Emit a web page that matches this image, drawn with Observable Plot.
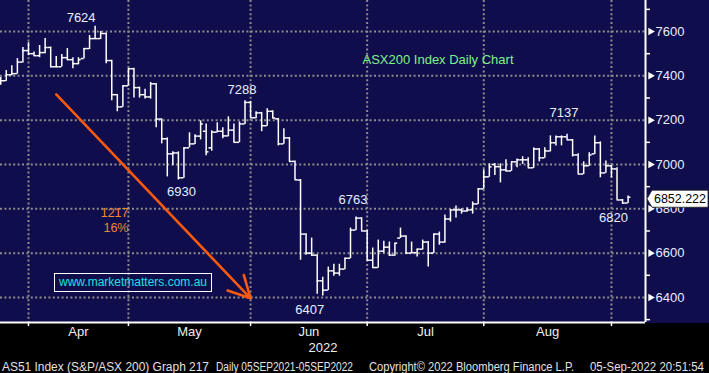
<!DOCTYPE html>
<html><head><meta charset="utf-8">
<script src="https://cdn.jsdelivr.net/npm/d3@7"></script>
<script src="https://cdn.jsdelivr.net/npm/@observablehq/plot@0.6"></script>
<style>
html,body{margin:0;padding:0;background:#000;}
#chart{position:relative;width:709px;height:373px;overflow:hidden;}
#chart svg{display:block;}
.mm{position:absolute;left:54px;top:273px;width:156px;height:17px;border:1px solid #fff;color:#1ee0e6;font:12px "Liberation Sans",Arial,sans-serif;line-height:17px;text-align:center;}
</style></head><body><div id="chart"></div>
<script>
// ---- data: ASX200 daily OHLC, 24 Mar 2022 - 5 Sep 2022 (trading days) ----
const dates = [
"2022-03-24","2022-03-25","2022-03-28","2022-03-29","2022-03-30","2022-03-31",
"2022-04-01","2022-04-04","2022-04-05","2022-04-06","2022-04-07","2022-04-08","2022-04-11","2022-04-12","2022-04-13","2022-04-14","2022-04-19","2022-04-20","2022-04-21","2022-04-22","2022-04-26","2022-04-27","2022-04-28","2022-04-29",
"2022-05-02","2022-05-03","2022-05-04","2022-05-05","2022-05-06","2022-05-09","2022-05-10","2022-05-11","2022-05-12","2022-05-13","2022-05-16","2022-05-17","2022-05-18","2022-05-19","2022-05-20","2022-05-23","2022-05-24","2022-05-25","2022-05-26","2022-05-27","2022-05-30","2022-05-31",
"2022-06-01","2022-06-02","2022-06-03","2022-06-06","2022-06-07","2022-06-08","2022-06-09","2022-06-10","2022-06-14","2022-06-15","2022-06-16","2022-06-17","2022-06-20","2022-06-21","2022-06-22","2022-06-23","2022-06-24","2022-06-27","2022-06-28","2022-06-29","2022-06-30",
"2022-07-01","2022-07-04","2022-07-05","2022-07-06","2022-07-07","2022-07-08","2022-07-11","2022-07-12","2022-07-13","2022-07-14","2022-07-15","2022-07-18","2022-07-19","2022-07-20","2022-07-21","2022-07-22","2022-07-25","2022-07-26","2022-07-27","2022-07-28","2022-07-29",
"2022-08-01","2022-08-02","2022-08-03","2022-08-04","2022-08-05","2022-08-08","2022-08-09","2022-08-10","2022-08-11","2022-08-12","2022-08-15","2022-08-16","2022-08-17","2022-08-18","2022-08-19","2022-08-22","2022-08-23","2022-08-24","2022-08-25","2022-08-26","2022-08-29","2022-08-30","2022-08-31",
"2022-09-01","2022-09-02","2022-09-05"];
const opens = [7365,7378,7405,7410,7462,7514,
7500,7491,7505,7528,7441,7441,7482,7473,7455,7478,7523,7568,7568,7591,7469,7315,7260,7355,
7432,7347,7315,7305,7364,7205,7116,7048,7052,6940,7075,7093,7128,7150,7075,7146,7150,7129,7155,7100,7183,7280,
7211,7233,7175,7240,7206,7093,7120,7014,6930,6686,6600,6591,6475,6433,6520,6510,6528,6577,6704,6758,6700,
6568,6535,6609,6627,6591,6668,6677,6600,6602,6618,6650,6600,6686,6650,6754,6795,6795,6790,6795,6822,6890,
6944,7000,6990,6976,6971,7012,7021,7021,6985,7070,7030,7061,7098,7125,7125,7111,7043,6957,6994,7048,7098,6962,6994,
6980,6840,6826];
const highs = [7392,7424,7446,7478,7528,7550,
7508,7537,7568,7530,7487,7496,7523,7482,7482,7523,7582,7624,7600,7593,7470,7316,7355,7432,
7434,7349,7340,7370,7366,7206,7120,7057,7057,7075,7143,7134,7197,7183,7152,7188,7166,7215,7183,7192,7288,7285,
7238,7235,7251,7242,7208,7161,7122,7016,6932,6688,6668,6593,6491,6537,6550,6550,6577,6713,6763,6760,6702,
6623,6659,6654,6650,6645,6713,6679,6650,6618,6659,6652,6686,6695,6772,6795,6813,6800,6805,6831,6890,6976,
7003,7005,7003,7021,7012,7025,7035,7030,7075,7072,7075,7129,7129,7129,7137,7113,7048,7012,7053,7129,7102,7016,6996,
6985,6842,6858];
const lows = [7358,7375,7400,7408,7458,7491,
7488,7482,7500,7437,7437,7440,7469,7432,7450,7476,7519,7564,7564,7455,7288,7238,7258,7353,
7300,7300,7295,7295,7166,7093,6944,6994,6930,6938,7075,7090,7111,7039,7060,7143,7116,7125,7098,7098,7180,7211,
7206,7148,7173,7206,7084,7091,7012,6930,6568,6591,6586,6414,6407,6431,6496,6496,6525,6575,6702,6700,6564,
6532,6532,6600,6586,6586,6666,6596,6598,6582,6614,6537,6598,6636,6645,6740,6758,6776,6785,6776,6820,6888,
6942,6950,6917,6967,6969,6985,7000,6985,6983,7012,7028,7057,7084,7084,7111,7034,6957,6955,6992,7045,6940,6960,6940,
6840,6820,6824];
const closes = [7378,7405,7410,7462,7514,7500,
7491,7505,7528,7441,7441,7482,7473,7455,7473,7523,7568,7568,7591,7469,7315,7260,7355,7432,
7347,7315,7305,7364,7205,7116,7048,7052,6940,7075,7093,7128,7183,7057,7146,7150,7129,7155,7100,7183,7280,7211,
7233,7175,7240,7210,7093,7120,7014,6931,6686,6600,6591,6475,6433,6520,6510,6528,6577,6704,6758,6700,6568,
6535,6609,6627,6591,6645,6677,6600,6602,6618,6650,6600,6686,6650,6754,6795,6795,6790,6795,6822,6890,6944,
6989,6990,6976,6971,7012,7021,7021,6985,7070,7030,7061,7098,7125,7125,7111,7043,6957,6994,7043,7098,6962,6994,6980,
6840,6826,6852.222];

const monthNames = ["Apr","May","Jun","Jul","Aug"];
const yearLabel = "2022";
const majorTicks = [6400,6600,6800,7000,7200,7400,7600];
const minorTicks = [6300,6500,6700,6900,7100,7300,7500,7700];
// swing annotations: bar index and which extreme
const swingHighIdx = [17, 44, 64, 102];
const swingLowIdx = [32, 58, 112];
// drawn trend arrow (bar index, index level)
const arrowFrom = {i: 10, v: 7316};
const arrowTo = {i: 45, v: 6396};
const titleText = "ASX200 Index Daily Chart";
const siteText = "www.marketmatters.com.au";
const footerTexts = ["AS51 Index (S&P/ASX 200) Graph 217","Daily 05SEP2021-05SEP2022","Copyright\u00a9 2022 Bloomberg Finance L.P.","05-Sep-2022 20:51:54"];

// ---- derived ----
const N = dates.length;
const bars = d3.range(N).map(i => ({i, o: opens[i], h: highs[i], l: lows[i], c: closes[i]}));
const mon = s => s.slice(5, 7);
const bounds = d3.range(N - 1).filter(i => mon(dates[i]) !== mon(dates[i + 1]));
const monthLabels = d3.range(bounds.length - 1).map(k => ({x: (bounds[k] + bounds[k + 1]) / 2, label: monthNames[k]}));
const peak = highs[swingHighIdx[0]], trough = lows[swingLowIdx[1]];
const dropText = `${peak - trough}\n${Math.round((peak - trough) / peak * 100)}%`;

const xDom = [-0.04, 116.13], yDom = [6287, 7740];
const grid = {stroke: "#8c8c8c", strokeWidth: 2, strokeDasharray: "2,2.4"};
const lbl = {fill: "#e6eeff", fontSize: 13, fontFamily: "Liberation Sans, Arial, sans-serif"};
const hiLabel = (i, dx, dy) => Plot.text([bars[i]], {x: "i", y: "h", text: d => String(d.h), dx, dy, ...lbl});
const loLabel = (i, dx, dy) => Plot.text([bars[i]], {x: "i", y: "l", text: d => String(d.l), dx, dy, ...lbl});

const plot = Plot.plot({
  width: 709, height: 373,
  marginTop: 0, marginLeft: 0, marginRight: 64, marginBottom: 51,
  style: {background: "linear-gradient(to bottom, #0f0d4b 0px, #0f0d4b 323px, #000 323px)", color: "#fff", fontFamily: "Liberation Sans, Arial, sans-serif", overflow: "visible"},
  x: {domain: xDom, axis: null},
  y: {domain: yDom, axis: null},
  marks: [
    Plot.ruleY(majorTicks, grid),
    Plot.ruleX(bounds, grid),
    Plot.arrow([{a: arrowFrom, b: arrowTo}], {x1: d => d.a.i, y1: d => d.a.v, x2: d => d.b.i, y2: d => d.b.v, stroke: "#fa5a10", strokeWidth: 2.6, headLength: 14, headAngle: 55}),
    Plot.ruleX(bars, {x: "i", y1: "l", y2: "h", stroke: "#fff", strokeWidth: 1.5}),
    Plot.ruleY(bars, {y: "o", x1: d => d.i - 0.5, x2: "i", stroke: "#fff", strokeWidth: 1.5}),
    Plot.ruleY(bars, {y: "c", x1: "i", x2: d => d.i + 0.5, stroke: "#fff", strokeWidth: 1.5}),
    Plot.ruleY([yDom[0]], {stroke: "#fff", strokeWidth: 2}),
    Plot.ruleX([xDom[1]], {stroke: "#fff", strokeWidth: 2}),
    Plot.axisY(minorTicks, {anchor: "right", tickSize: 4, tickFormat: () => "", stroke: "#fff", strokeWidth: 1.5}),
    Plot.axisX(bounds, {tickSize: 4, tickFormat: () => "", stroke: "#fff", strokeWidth: 1.5}),
    Plot.dot(majorTicks, {y: d => d, frameAnchor: "right", dx: 5, symbol: "triangle2", rotate: 90, r: 3.6, fill: "#fff", stroke: "none"}),
    Plot.text(majorTicks, {y: d => d, text: d => String(d), frameAnchor: "right", textAnchor: "start", dx: 10, ...lbl}),
    Plot.text(monthLabels, {x: "x", text: "label", frameAnchor: "bottom", dy: 13, fill: "#eeeeee", fontSize: 13, ariaLabel: "condensed"}),
    Plot.text([yearLabel], {text: d => d, frameAnchor: "bottom", dy: 29, fill: "#eeeeee", fontSize: 13, ariaLabel: "condensed"}),
    hiLabel(17, -14, -8),
    hiLabel(44, -3, -11),
    loLabel(32, 3, 12),
    hiLabel(64, -3, -17),
    loLabel(58, -13, 14),
    hiLabel(102, -3, -21),
    loLabel(112, -9, 13),
    Plot.text([titleText], {text: d => d, frameAnchor: "top-left", dx: 362, dy: 54, textAnchor: "start", fill: "#82f08a", fontSize: 13}),
    Plot.text([dropText], {text: d => d, frameAnchor: "top-left", dx: 128, dy: 205, textAnchor: "end", lineHeight: 1.25, fill: "#ec8a2e", fontSize: 12.5})
  ]
});

const chart = document.getElementById("chart");
chart.appendChild(plot);

const svg = d3.select(plot);
// condensed Bloomberg-like axis font
svg.selectAll('g[aria-label="condensed"] text').each(function () {
  const w = this.getComputedTextLength();
  this.setAttribute("textLength", w * 0.86);
  this.setAttribute("lengthAdjust", "spacingAndGlyphs");
});

// footer line
const footX = [2, 216, 369, 590], footW = [207, 137, 205, 114];
const fg = svg.append("g").attr("fill", "#e2e2e2").attr("font-size", 12.5).attr("text-anchor", "start")
  .attr("font-family", "Liberation Sans, Arial, sans-serif");
footerTexts.forEach((t, k) => {
  fg.append("text").attr("x", footX[k]).attr("y", 371).attr("text-anchor", "start")
    .attr("textLength", footW[k]).attr("lengthAdjust", "spacingAndGlyphs").text(t);
});

// last-price tag
const yS = plot.scale("y"), xS = plot.scale("x");
const last = closes[N - 1];
const ty = yS.apply(last) + 2, tx = xS.apply(xDom[1]);
const tg = svg.append("g").attr("text-anchor", "start");
tg.append("path").attr("d", `M${tx + 2},${ty} L${tx + 7},${ty - 8.5} L708,${ty - 8.5} L708,${ty + 8.5} L${tx + 7},${ty + 8.5} Z`)
  .attr("fill", "#fff").attr("stroke", "#222").attr("stroke-width", 0.8);
tg.append("text").attr("x", tx + 9).attr("y", ty).attr("dy", "0.36em").attr("fill", "#000").attr("text-anchor", "start")
  .attr("font-size", 13).attr("textLength", 52).attr("lengthAdjust", "spacingAndGlyphs")
  .attr("font-family", "Liberation Sans, Arial, sans-serif").text(d3.format(".3f")(last));

// website box
const box = document.createElement("div");
box.className = "mm";
box.textContent = siteText;
chart.appendChild(box);
</script>
</body></html>
